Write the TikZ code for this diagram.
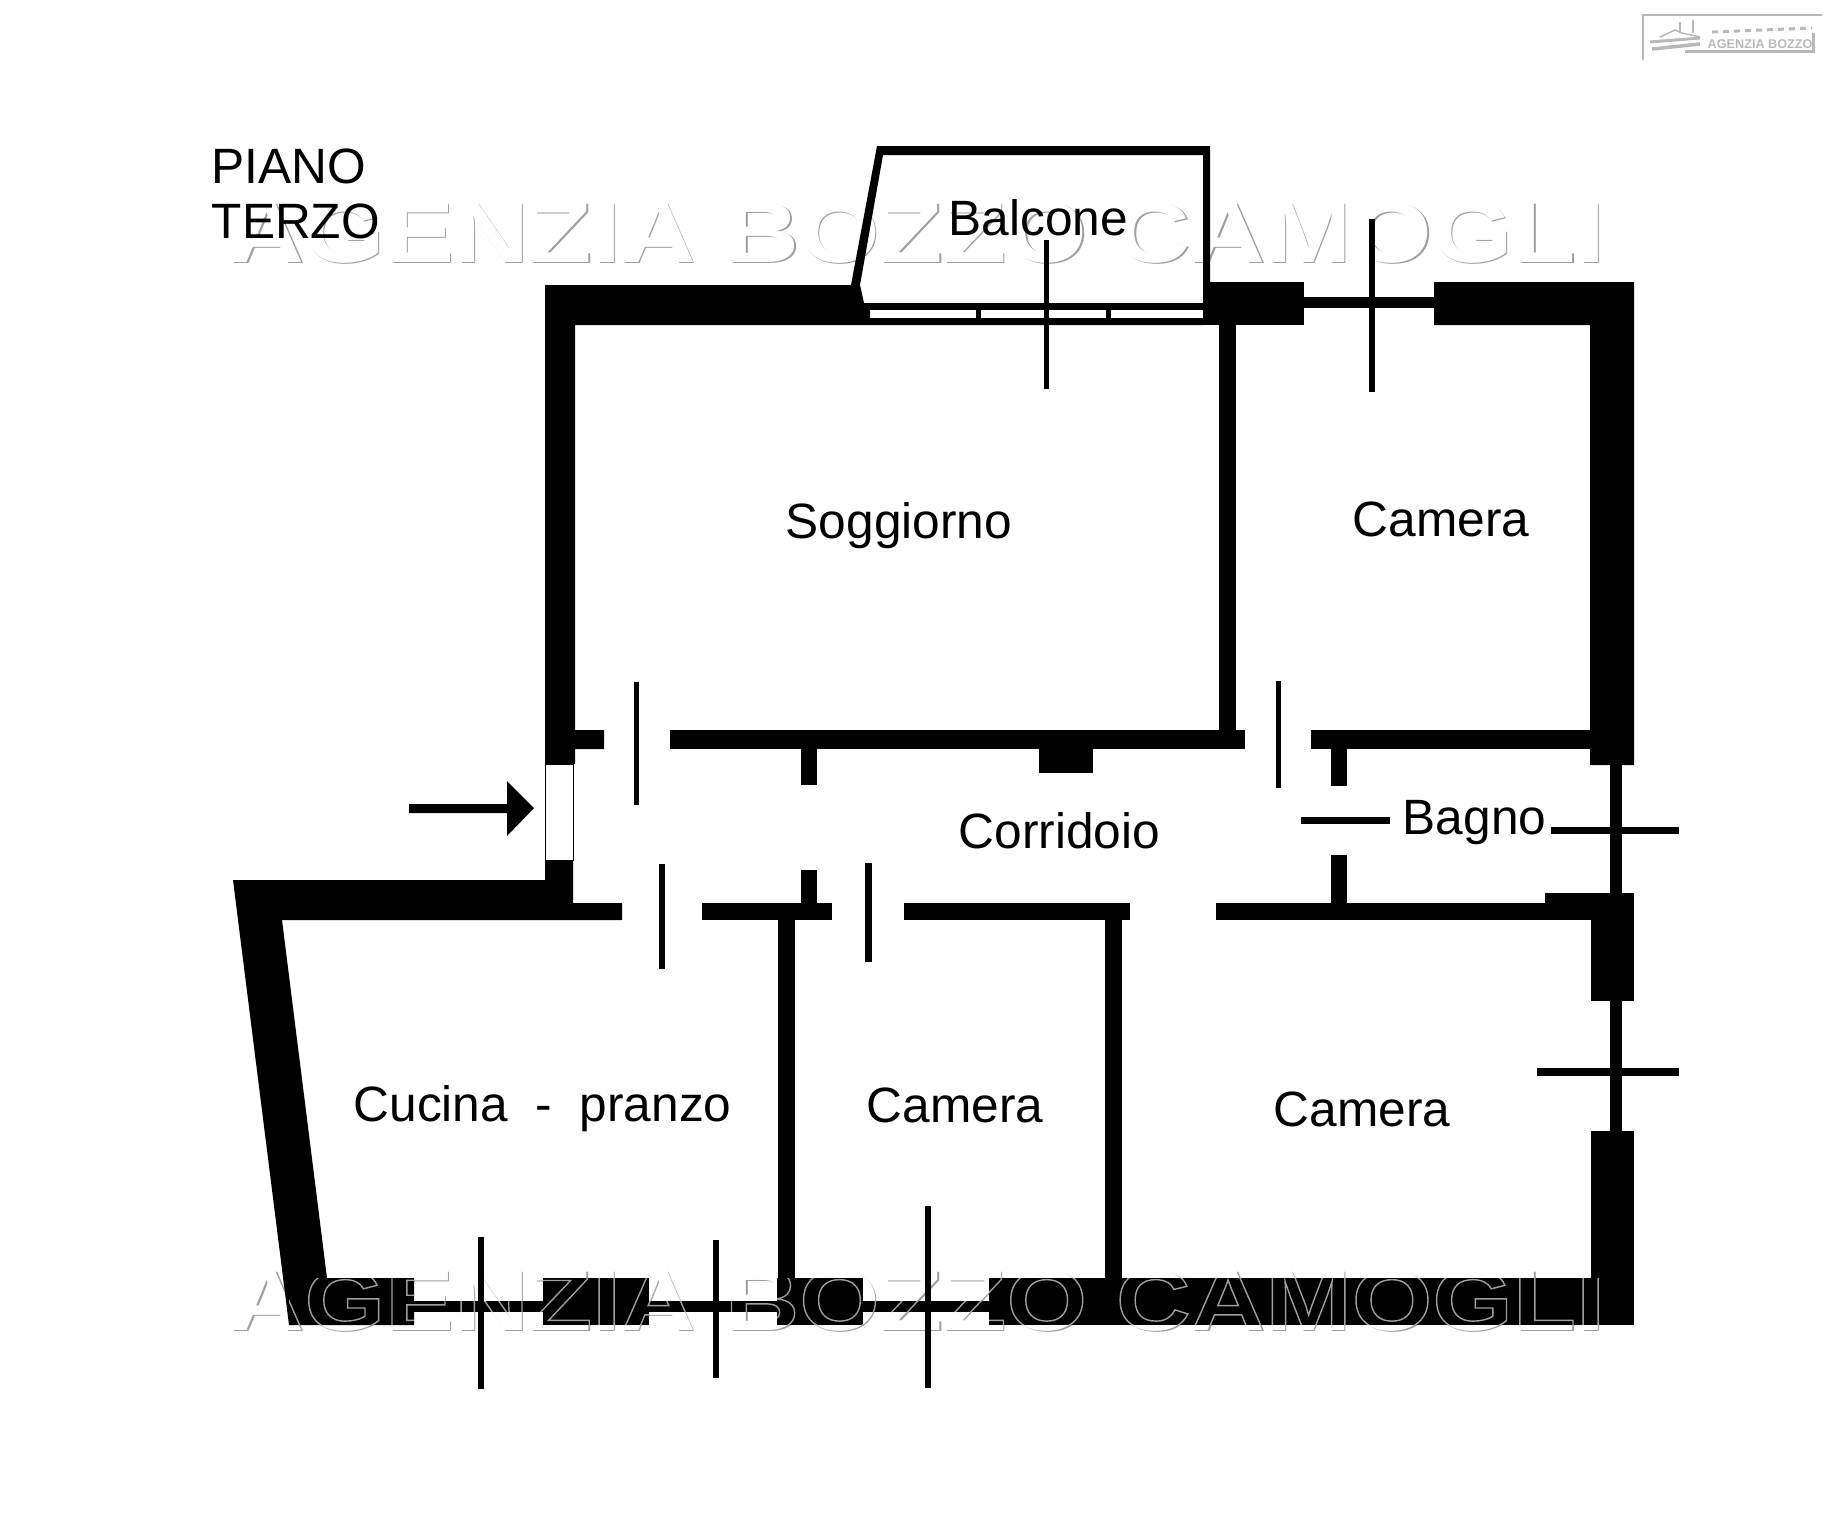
\documentclass[tikz,border=0pt]{standalone}
\usepackage{fontspec}
\setmainfont{Liberation Sans}
\newfontfamily\markfont[FakeStretch=1.203]{Liberation Sans}
\definecolor{markgray}{gray}{0.62}
\definecolor{logogray}{gray}{0.72}
\newcommand{\outlinetext}[1]{\special{pdf:code 1 Tr 0.4 w}#1\special{pdf:code 0 Tr}}
\tikzset{
    wall/.style={fill=black},
    roomtext/.style={font=\fontsize{14.12}{16}\selectfont, anchor=base west, inner sep=0pt},
    marktext/.style={font=\markfont\bfseries\fontsize{24.5}{26}\selectfont, anchor=base west, inner sep=0pt}
}
\begin{document}
\begin{tikzpicture}[x=0.1mm, y=-0.1mm]
            \useasboundingbox (0,0) rectangle (1838,1519);

            \node[marktext, text=markgray] (marktopedge) at (230.5,263.5) {AGENZIA BOZZO CAMOGLI};
            \node[marktext, text=white] (marktop) at (229,262) {AGENZIA BOZZO CAMOGLI};
            \node[marktext, text=markgray] (markbottomedge) at (230.5,1331.5) {AGENZIA BOZZO CAMOGLI};
            \node[marktext, text=white] (markbottom) at (229,1330) {AGENZIA BOZZO CAMOGLI};

            \draw[logogray, line width=0.15mm] (1822,15) -- (1643,15) -- (1643,60);
            \draw[logogray, line width=0.3mm] (1685,51) -- (1813,51) -- (1813,33);
            \draw[logogray, line width=0.3mm] (1650,42) -- (1700,38);
            \draw[logogray, line width=0.35mm] (1652,49) -- (1700,44);
            \draw[logogray, line width=0.15mm] (1660,37) -- (1675,30) -- (1682,33) -- (1700,37);
            \draw[logogray, line width=0.25mm] (1680,22) -- (1680,33);
            \draw[logogray, line width=0.25mm] (1693,20) -- (1693,33);
            \draw[logogray, line width=0.3mm, dash pattern=on 0.6mm off 0.5mm] (1712,32) -- (1812,28);
            \node[font=\bfseries\fontsize{3.6}{4}\selectfont, text=logogray, anchor=base west, inner sep=0pt] (logo) at (1707,48) {AGENZIA BOZZO};

            \fill[wall] (851,285) -- (877,146) -- (1210,146) -- (1210,285) -- (1203,285) -- (1203,155) -- (883,155) -- (860,285) -- cycle;
            \fill[wall] (864,303) rectangle (1203,310);
            \fill[wall] (976,310) rectangle (981,318);
            \fill[wall] (1106,310) rectangle (1111,318);

            \fill[wall] (545,285) -- (860,285) -- (864,303) -- (870,310) -- (870,318) -- (1203,318) -- (1203,325) -- (575,325) -- (575,730) -- (604,730) -- (604,749) -- (575,749) -- (575,764) -- (545,764) -- cycle;
            \fill[wall] (1203,282) rectangle (1304,325);
            \fill[wall] (1304,297) rectangle (1434,308);
            \fill[wall] (1434,282) -- (1634,282) -- (1634,765) -- (1590,765) -- (1590,325) -- (1434,325) -- cycle;
            \fill[wall] (1219,325) rectangle (1236,730);

            \fill[wall] (670,730) rectangle (1245,749);
            \fill[wall] (801,749) rectangle (817,785);
            \fill[wall] (1039,749) rectangle (1093,773);
            \fill[wall] (1311,730) rectangle (1590,749);
            \fill[wall] (1331,749) rectangle (1347,786);

            \fill[wall] (1610,765) rectangle (1622,893);
            \fill[wall] (1545,893) rectangle (1634,920);
            \fill[wall] (1591,893) rectangle (1634,1001);
            \fill[wall] (1610,1001) rectangle (1622,1131);
            \fill[wall] (1591,1131) rectangle (1634,1278);

            \fill[wall] (1216,903) rectangle (1590,920);
            \fill[wall] (1331,855) rectangle (1347,903);
            \fill[wall] (904,903) rectangle (1130,920);
            \fill[wall] (1105,920) rectangle (1122,1278);
            \fill[wall] (702,903) rectangle (832,920);
            \fill[wall] (801,870) rectangle (817,903);
            \fill[wall] (778,920) rectangle (795,1278);

            \fill[wall] (233,880) -- (545,880) -- (545,860) -- (573,860) -- (573,903) -- (622,903) -- (622,920) -- (282,920) -- (327,1278) -- (414,1278) -- (414,1325) -- (289,1325) -- cycle;
            \fill[wall] (414,1301) rectangle (543,1312);
            \fill[wall] (543,1278) rectangle (649,1325);
            \fill[wall] (649,1301) rectangle (777,1312);
            \fill[wall] (777,1278) rectangle (863,1325);
            \fill[wall] (863,1301) rectangle (989,1312);
            \fill[wall] (989,1278) rectangle (1634,1325);

            \draw[line width=0.1mm] (545,764) rectangle (573,860);

            \fill[wall] (1044,240) rectangle (1049,389);
            \fill[wall] (1369,219) rectangle (1375,392);
            \fill[wall] (634,682) rectangle (639,805);
            \fill[wall] (1276,681) rectangle (1281,788);
            \fill[wall] (659,864) rectangle (665,969);
            \fill[wall] (865,863) rectangle (872,962);
            \fill[wall] (1301,817) rectangle (1390,824);
            \fill[wall] (1551,827) rectangle (1679,834);
            \fill[wall] (1537,1068) rectangle (1679,1076);
            \fill[wall] (478,1237) rectangle (484,1389);
            \fill[wall] (713,1240) rectangle (719,1378);
            \fill[wall] (925,1206) rectangle (931,1388);

            \fill[wall] (409,804) -- (507,804) -- (507,781) -- (534,808) -- (507,836) -- (507,813) -- (409,813) -- cycle;

            \begin{scope}
                \clip (289,1278) rectangle (414,1325) (543,1278) rectangle (649,1325) (777,1278) rectangle (863,1325) (989,1278) rectangle (1634,1325) (414,1301) rectangle (989,1312);
                \node[marktext, text=markgray] (markwall) at (229,1330) {\outlinetext{AGENZIA BOZZO CAMOGLI}};
            \end{scope}

            \node[roomtext] (piano) at (211,183) {PIANO};
            \node[roomtext] (terzo) at (211,238) {TERZO};
            \node[roomtext] (balcone) at (948,235) {Balcone};
            \node[roomtext] (soggiorno) at (785,538) {Soggiorno};
            \node[roomtext] (cameraa) at (1352,536) {Camera};
            \node[roomtext] (corridoio) at (958,848) {Corridoio};
            \node[roomtext] (bagno) at (1402,834) {Bagno};
            \node[roomtext] (cucina) at (353,1121) {Cucina~~-~~pranzo};
            \node[roomtext] (camerab) at (866,1122) {Camera};
            \node[roomtext] (camerac) at (1273,1126) {Camera};
\end{tikzpicture}
\end{document}
